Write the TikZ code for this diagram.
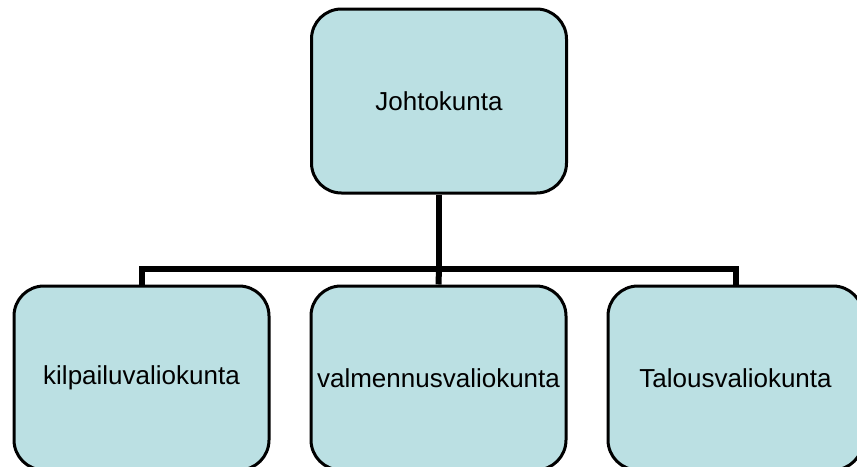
\documentclass[tikz,border=0pt]{standalone}
\usepackage{fontspec}
\setmainfont{Liberation Sans}
\usepackage{tikz}
\definecolor{boxblue}{RGB}{187,224,227}

\begin{document}
\begin{tikzpicture}[x=1pt, y=-1pt,
    unit/.style={draw=black, line width=3pt, fill=boxblue, rounded corners=30pt,
      minimum width=255pt, inner sep=0pt, font=\fontsize{26}{30}\selectfont},
    link/.style={line width=6pt}]
		  % fixes the page
		    \useasboundingbox (0,0) rectangle (857,466);

		  % draws the units
		    \node [unit, minimum height=184pt] (johto) at (439,101) {Johtokunta};
		    \foreach \name/\label [count = \x] in {kilpailu/kilpailuvaliokunta,valmennus/valmennusvaliokunta,talous/Talousvaliokunta}
		      \node [unit, minimum height=184pt] (\name) at (141.5 + 297*\x - 297, 378) {\label};

		  % draws the links
		    \draw[link] (johto.south) -- ++(0,74) coordinate (fork);
		    \draw[link] (fork) -| (kilpailu.north);
		    \draw[link] (fork) -| (talous.north);
		    \draw[link] (fork) -- (valmennus.north);
	  \end{tikzpicture}
\end{document}
